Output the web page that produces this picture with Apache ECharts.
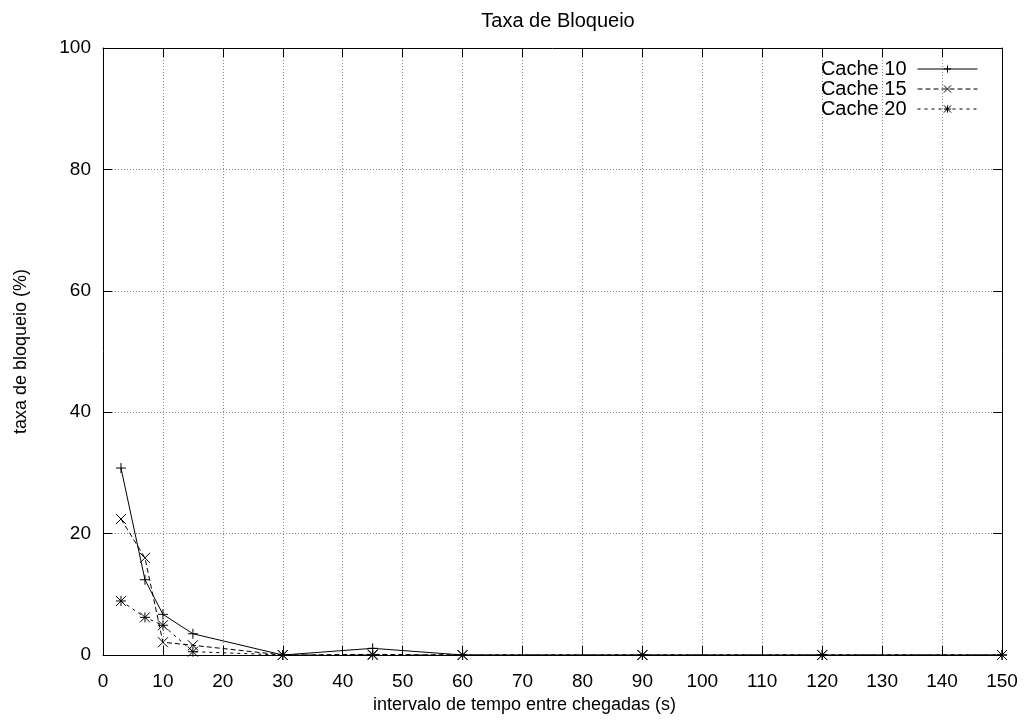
<!DOCTYPE html>
<html>
<head>
<meta charset="utf-8">
<script src="https://cdn.jsdelivr.net/npm/echarts@6/dist/echarts.min.js"></script>
<style>
  html, body { margin: 0; padding: 0; background: #fff; }
  #chart { width: 1025px; height: 724px; }
</style>
</head>
<body>
<div id="chart"></div>
<script>
// Blocking rate (%) versus mean inter-arrival time (s) for three cache sizes
const intervals = [3, 7, 10, 15, 30, 45, 60, 90, 120, 150];
const cache10 = [30.8, 12.4, 6.7, 3.5, 0, 1.1, 0, 0, 0, 0];
const cache15 = [22.4, 16.0, 2.1, 1.6, 0, 0.1, 0, 0, 0, 0];
const cache20 = [8.9, 6.2, 4.9, 0.55, 0, 0, 0, 0, 0, 0];
const seriesNames = ['Cache 10', 'Cache 15', 'Cache 20'];

const FONT = "'Liberation Sans', Arial, Helvetica, sans-serif";

// gnuplot-like point glyphs: plus, cross, asterisk
const SYM_PLUS = 'path://M0,5L10,5M5,0L5,10';
const SYM_CROSS = 'path://M0,0L10,10M0,10L10,0';
const SYM_STAR = 'path://M0,5L10,5M5,0L5,10M0,0L10,10M0,10L10,0';

function pairs(ys) {
  return intervals.map((x, i) => [x, ys[i]]);
}

function makeSeries(name, ys, symbol, dash) {
  return {
    name: name,
    type: 'line',
    data: pairs(ys),
    symbol: symbol,
    symbolSize: 10,
    showAllSymbol: true,
    lineStyle: { color: '#000', width: 1, type: dash },
    itemStyle: { color: 'rgba(0,0,0,0)', borderColor: '#000', borderWidth: 1 },
    emphasis: { disabled: true },
    animation: false,
    z: 3
  };
}

const gridLine = { show: true, lineStyle: { color: '#888', width: 1, type: [1, 2] } };
const axisLine = { show: true, onZero: false, lineStyle: { color: '#000', width: 1 } };
const tickIn = { show: true, inside: true, length: 9, lineStyle: { color: '#000', width: 1 } };
const tickLabel = { color: '#000', fontFamily: FONT, fontSize: 19 };

const option = {
  backgroundColor: '#fff',
  animation: false,
  title: {
    text: 'Taxa de Bloqueio',
    left: 553,
    textAlign: 'center',
    top: 6,
    textStyle: { color: '#000', fontFamily: FONT, fontSize: 20, fontWeight: 'normal' }
  },
  legend: {
    data: seriesNames,
    orient: 'vertical',
    right: 42,
    top: 54,
    align: 'right',
    itemWidth: 60,
    itemHeight: 9,
    itemGap: 0,
    lineStyle: { width: 1, color: '#000' },
    itemStyle: { color: 'rgba(0,0,0,0)', borderColor: '#000', borderWidth: 1 },
    textStyle: { color: '#000', fontFamily: FONT, fontSize: 20, padding: [0, 6, 0, 0] }
  },
  grid: { left: 103, right: 23, top: 48, bottom: 69, containLabel: false },
  xAxis: [
    {
      type: 'value', min: 0, max: 150, interval: 10, position: 'bottom',
      name: 'intervalo de tempo entre chegadas (s)',
      nameLocation: 'middle', nameGap: 36,
      nameTextStyle: { color: '#000', fontFamily: FONT, fontSize: 18, padding: [0, 56, 0, 0] },
      axisLine: axisLine, axisTick: tickIn,
      axisLabel: Object.assign({ margin: 17 }, tickLabel),
      splitLine: gridLine
    },
    {
      type: 'value', min: 0, max: 150, interval: 10, position: 'top',
      axisLine: axisLine, axisTick: tickIn,
      axisLabel: { show: false }, splitLine: { show: false }
    }
  ],
  yAxis: [
    {
      type: 'value', min: 0, max: 100, interval: 20, position: 'left',
      name: 'taxa de bloqueio (%)',
      nameLocation: 'middle', nameGap: 73,
      nameTextStyle: { color: '#000', fontFamily: FONT, fontSize: 18 },
      axisLine: axisLine, axisTick: tickIn,
      axisLabel: Object.assign({ margin: 12 }, tickLabel),
      splitLine: gridLine
    },
    {
      type: 'value', min: 0, max: 100, interval: 20, position: 'right',
      axisLine: axisLine, axisTick: tickIn,
      axisLabel: { show: false }, splitLine: { show: false }
    }
  ],
  series: [
    makeSeries(seriesNames[0], cache10, SYM_PLUS, 'solid'),
    makeSeries(seriesNames[1], cache15, SYM_CROSS, [5, 3]),
    makeSeries(seriesNames[2], cache20, SYM_STAR, [3, 4])
  ]
};

const chart = echarts.init(document.getElementById('chart'), null, { renderer: 'canvas' });
chart.setOption(option);
</script>
</body>
</html>
